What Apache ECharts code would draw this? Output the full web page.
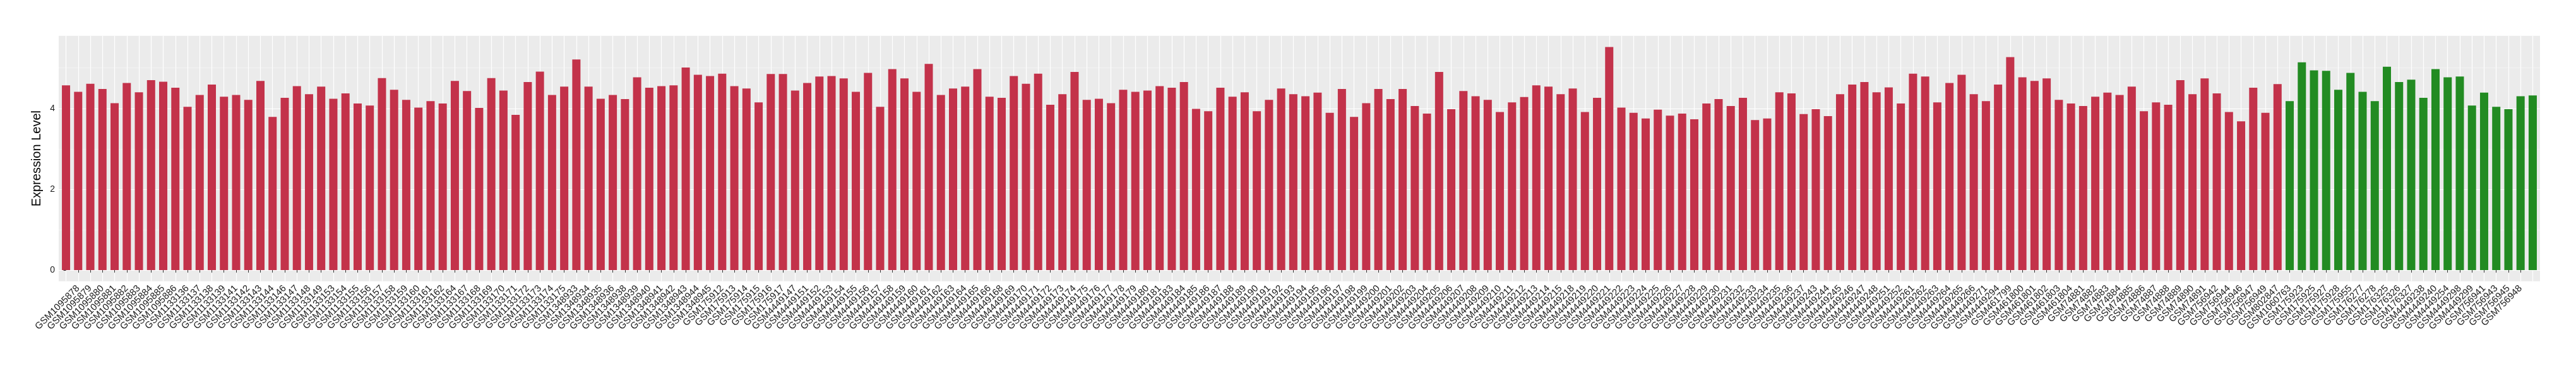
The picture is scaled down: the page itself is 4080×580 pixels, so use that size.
<!DOCTYPE html>
<html><head><meta charset="utf-8">
<script src="https://cdn.jsdelivr.net/npm/echarts@6/dist/echarts.min.js"></script>
<style>html,body{margin:0;padding:0;background:#fff}#c{width:4080px;height:580px}</style>
</head><body><div id="c"></div>
<script>
const redSamples = [
"GSM1095877","GSM1095878","GSM1095879","GSM1095880","GSM1095881","GSM1095882","GSM1095883","GSM1095884","GSM1095885","GSM1095886",
"GSM1133136","GSM1133137","GSM1133138","GSM1133139","GSM1133141","GSM1133142","GSM1133143","GSM1133144","GSM1133146","GSM1133147","GSM1133148","GSM1133149","GSM1133153","GSM1133154","GSM1133155","GSM1133156","GSM1133157","GSM1133158","GSM1133159","GSM1133160","GSM1133161","GSM1133162","GSM1133164","GSM1133167","GSM1133168","GSM1133169","GSM1133170","GSM1133171","GSM1133172","GSM1133173","GSM1133174","GSM1133175",
"GSM1348933","GSM1348934","GSM1348935","GSM1348936","GSM1348938","GSM1348939","GSM1348940","GSM1348941","GSM1348942","GSM1348943","GSM1348944","GSM1348945",
"GSM175912","GSM175913","GSM175914","GSM175915","GSM175916","GSM175917",
"GSM4449147","GSM4449151","GSM4449152","GSM4449153","GSM4449154","GSM4449155","GSM4449156","GSM4449157","GSM4449158","GSM4449159","GSM4449160","GSM4449161","GSM4449162","GSM4449163","GSM4449164","GSM4449165","GSM4449166",
"GSM4449168","GSM4449169","GSM4449170","GSM4449171","GSM4449172","GSM4449173","GSM4449174","GSM4449175","GSM4449176","GSM4449177","GSM4449178","GSM4449179","GSM4449180","GSM4449181",
"GSM4449183","GSM4449184","GSM4449185","GSM4449186","GSM4449187","GSM4449188","GSM4449189","GSM4449190","GSM4449191","GSM4449192","GSM4449193","GSM4449194","GSM4449195","GSM4449196","GSM4449197","GSM4449198","GSM4449199","GSM4449200","GSM4449201","GSM4449202","GSM4449203","GSM4449204","GSM4449205","GSM4449206","GSM4449207","GSM4449208","GSM4449209","GSM4449210","GSM4449211","GSM4449212","GSM4449213","GSM4449214","GSM4449215",
"GSM4449218","GSM4449219","GSM4449220","GSM4449221","GSM4449222","GSM4449223","GSM4449224","GSM4449225","GSM4449226","GSM4449227","GSM4449228","GSM4449229","GSM4449230","GSM4449231","GSM4449232","GSM4449233","GSM4449234","GSM4449235","GSM4449236","GSM4449237",
"GSM4449243","GSM4449244","GSM4449245","GSM4449246","GSM4449247","GSM4449248","GSM4449251","GSM4449252","GSM4449261","GSM4449262","GSM4449263","GSM4449264","GSM4449265","GSM4449266","GSM4449271","GSM4449294",
"GSM461799","GSM461800","GSM461801","GSM461802","GSM461803","GSM461804",
"GSM74881","GSM74882","GSM74883","GSM74884","GSM74885","GSM74886","GSM74887","GSM74888","GSM74889","GSM74890","GSM74891",
"GSM756942","GSM756944","GSM756946","GSM756947","GSM756949","GSM802847"
];
const redValues = [
4.57,4.41,4.61,4.48,4.13,4.63,4.40,4.70,4.66,4.51,
4.04,4.33,4.59,4.29,4.33,4.21,4.68,3.79,4.26,4.55,4.35,4.54,4.24,4.37,4.12,4.07,4.75,4.46,4.21,4.02,4.18,4.12,4.68,4.43,4.01,4.75,4.44,3.84,4.65,4.91,4.33,4.54,
5.21,4.54,4.24,4.33,4.23,4.77,4.51,4.55,4.57,5.01,4.83,4.80,
4.86,4.55,4.49,4.15,4.85,4.85,
4.44,4.63,4.79,4.80,4.74,4.41,4.88,4.04,4.97,4.74,4.41,5.10,4.33,4.49,4.54,4.97,4.29,
4.26,4.80,4.61,4.86,4.09,4.35,4.90,4.21,4.24,4.13,4.46,4.41,4.44,4.55,
4.51,4.65,3.99,3.93,4.51,4.29,4.40,3.93,4.21,4.49,4.35,4.30,4.39,3.89,4.48,3.79,4.13,4.48,4.23,4.48,4.06,3.87,4.90,3.98,4.43,4.30,4.21,3.91,4.15,4.28,4.57,4.54,4.35,
4.49,3.91,4.26,5.52,4.02,3.89,3.75,3.97,3.82,3.87,3.73,4.12,4.23,4.06,4.26,3.71,3.75,4.40,4.37,3.86,
3.98,3.81,4.35,4.59,4.65,4.40,4.52,4.12,4.86,4.79,4.15,4.63,4.83,4.35,4.18,4.59,
5.27,4.77,4.68,4.74,4.21,4.12,
4.06,4.29,4.39,4.33,4.54,3.93,4.15,4.09,4.70,4.35,4.74,
4.37,3.91,3.68,4.51,3.89,4.60
];
const greenSamples = [
"GSM1060763","GSM175923","GSM175925","GSM175927","GSM175928","GSM175955","GSM176277","GSM176278","GSM176325","GSM176326","GSM176327",
"GSM4449238","GSM4449240","GSM4449254","GSM4449298","GSM4449299","GSM756941","GSM756943","GSM756945","GSM756948","GSM756950"
];
const greenValues = [
4.18,5.14,4.94,4.93,4.46,4.88,4.41,4.18,5.03,4.65,4.71,
4.26,4.97,4.77,4.79,4.07,4.39,4.04,3.98,4.30,4.32
];
const yTickValues = [0, 2, 4];
const yMinorValues = [1, 3, 5];

const RED = '#C3324A', GREEN = '#228B22';
const categories = redSamples.concat(greenSamples);
const values = redValues.concat(greenValues);
const n = categories.length;
const idx = categories.map((_, i) => i);
const FONT = 'Liberation Sans, Arial, Helvetica, sans-serif';

const chart = echarts.init(document.getElementById('c'), null, {renderer: 'canvas'});
chart.setOption({
  backgroundColor: '#ffffff',
  animation: false,
  grid: {
    left: 93, right: 57, top: 56.7, bottom: 134.3,
    show: true, backgroundColor: '#EBEBEB', borderWidth: 0,
    outerBoundsMode: 'none', containLabel: false
  },
  xAxis: {
    type: 'value',
    min: -0.6, max: n - 0.4,
    axisLine: {show: false},
    axisTick: {show: true, customValues: idx, length: 4, lineStyle: {color: '#333333', width: 1}},
    axisLabel: {
      show: true, customValues: idx, rotate: 45, margin: 9,
      fontSize: 15, fontFamily: FONT, color: '#1a1a1a', hideOverlap: false,
      formatter: v => categories[Math.round(v)] || ''
    },
    splitLine: {show: true, lineStyle: {color: '#FFFFFF', width: 1.2}}
  },
  yAxis: [{
    type: 'value',
    min: -0.276, max: 5.796,
    name: 'Expression Level', nameLocation: 'middle', nameRotate: 90, nameGap: 20,
    nameTextStyle: {fontSize: 20, fontFamily: FONT, color: '#000000'},
    axisLine: {show: false},
    axisTick: {show: true, customValues: yTickValues, length: 4, lineStyle: {color: '#333333', width: 1}},
    axisLabel: {show: true, customValues: yTickValues, margin: 6, fontSize: 14, fontFamily: FONT, color: '#1a1a1a'},
    splitLine: {show: true, lineStyle: {color: '#FFFFFF', width: 1.2}}
  }, {
    type: 'value',
    min: -0.276, max: 5.796,
    position: 'left',
    axisLine: {show: false},
    axisTick: {show: false, customValues: yMinorValues},
    axisLabel: {show: false, customValues: yMinorValues},
    splitLine: {show: true, lineStyle: {color: '#F5F5F5', width: 0.8}}
  }],
  series: [{
    type: 'bar',
    xAxisIndex: 0, yAxisIndex: 0,
    barWidth: 13,
    data: values.map((v, i) => [i, v]),
    itemStyle: {color: p => (p.dataIndex < redSamples.length ? RED : GREEN)},
    z: 3
  }]
});
</script>
</body></html>
